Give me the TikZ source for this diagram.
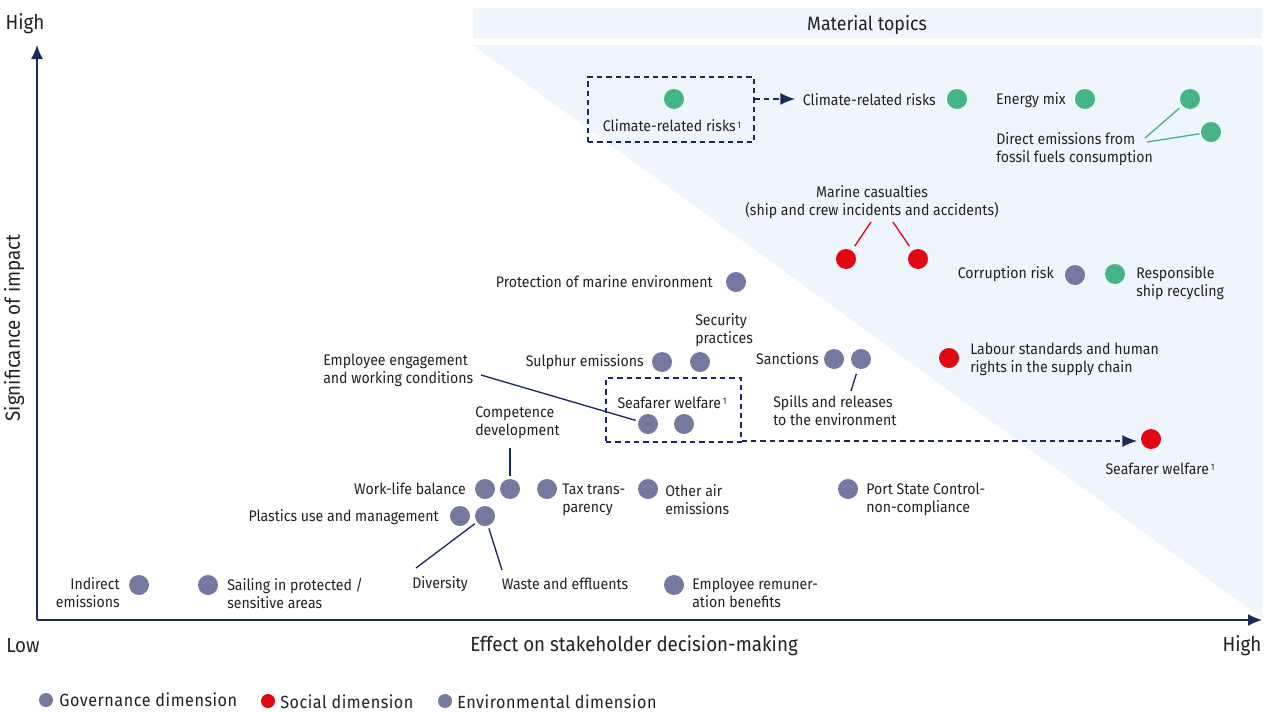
\documentclass[tikz,border=0pt]{standalone}
\usepackage{fontspec}
\setmainfont{Fira Sans}[FakeStretch=0.92]
\usetikzlibrary{arrows.meta}
\definecolor{navy}{HTML}{1B2A5C}
\definecolor{dgrey}{HTML}{7579A0}
\definecolor{dgreen}{HTML}{45B486}
\definecolor{dred}{HTML}{E30613}
\definecolor{lblue}{HTML}{EEF5FC}
\definecolor{txt}{HTML}{222222}
\newcommand{\supone}{\kern1.2pt{\fontsize{7}{7}\selectfont\raisebox{0.8ex}{1}}}
\begin{document}
\begin{tikzpicture}[x=0.75pt,y=-0.75pt,
  dotbase/.style={circle, draw=none, minimum size=15pt, inner sep=0pt},
  gdot/.style={dotbase, fill=dgrey},
  grdot/.style={dotbase, fill=dgreen},
  rdot/.style={dotbase, fill=dred},
  legdot/.style={circle, draw=none, minimum size=10.5pt, inner sep=0pt},
  lbl/.style={inner sep=0pt, text=txt, font=\fontsize{11.5}{13.5}\selectfont, align=left, yshift=-0.8pt},
  lblc/.style={lbl, align=center},
  lblr/.style={lbl, align=right},
  axlbl/.style={inner sep=0pt, text=txt, font=\fontsize{15.3}{17}\selectfont, yshift=-1pt},
  leglbl/.style={inner sep=0pt, text=txt, font=\fontsize{13.2}{15}\selectfont\addfontfeatures{LetterSpace=3}, anchor=west},
  axis/.style={draw=navy, line width=1.1pt, -{Latex[length=10.5pt,width=9pt]}},
  conn/.style={draw=navy, line width=1pt},
  gconn/.style={draw=dgreen, line width=1pt},
  rconn/.style={draw=dred, line width=1pt},
  dbox/.style={draw=navy, line width=1.1pt, dash pattern=on 4pt off 3pt},
  darrow/.style={draw=navy, line width=1.1pt, dash pattern=on 4pt off 3pt, -{Latex[length=11pt,width=9pt]}}
]
\useasboundingbox (0,0) rectangle (1269,711);
\fill[white] (0,0) rectangle (1269,711);

% material zone
\fill[lblue] (473,8) rectangle (1262,38);
\node[axlbl, font=\fontsize{14.5}{16}\selectfont] (mt) at (867,24) {Material topics};
\fill[lblue] (473,45) -- (1262,45) -- (1262,618) -- cycle;

% axes
\coordinate (origin) at (37,620);
\coordinate (ytip) at (37,45);
\coordinate (xtip) at (1262,620);
\draw[axis] (origin) -- (ytip);
\draw[axis] (origin) -- (xtip);
\node[axlbl] (yhigh) at (25,22) {High};
\node[axlbl] (ylow) at (23,644) {Low};
\node[axlbl] (xhigh) at (1242,644) {High};
\node[axlbl] (xlab) at (634,644) {Effect on stakeholder decision-making};
\node[axlbl, rotate=90, yshift=0pt, xshift=1pt] (ylab) at (14,328) {Significance of impact};

% climate-related risks (box)
\node[dbox, minimum width=124.5pt, minimum height=48.75pt, inner sep=0pt] (box1) at (671,109.5) {};
\node[grdot] (cr1) at (674,99) {};
\node[lblc] (cr1l) at (672,125) {Climate-related risks\supone};
\coordinate (cr1a) at (795,99);
\draw[darrow] (box1.east |- cr1) -- (cr1a);
\node[lbl, anchor=east] (cr2l) at (936,99) {Climate-related risks};
\node[grdot] (cr2) at (957,99) {};
\node[lbl, anchor=east] (eml) at (1066,99) {Energy mix};
\node[grdot] (em) at (1085,99) {};
\node[grdot] (de1) at (1190,99) {};
\node[grdot] (de2) at (1211,132) {};
\node[lbl, anchor=west] (del) at (996,148.5) {Direct emissions from\\fossil fuels consumption};
\coordinate (dea) at (1145,138);
\coordinate (deb) at (1147,142);
\draw[gconn, shorten >=3pt] (dea) -- (de1);
\draw[gconn, shorten >=1pt] (deb) -- (de2);

% marine casualties
\node[lblc] (mcl) at (872,201.5) {Marine casualties\\(ship and crew incidents and accidents)};
\node[rdot] (mc1) at (846,259) {};
\node[rdot] (mc2) at (918,259) {};
\coordinate (mca) at (871,222);
\coordinate (mcb) at (893,222);
\draw[rconn, shorten >=4pt] (mca) -- (mc1);
\draw[rconn, shorten >=4pt] (mcb) -- (mc2);

% corruption / recycling
\node[lbl, anchor=east] (corl) at (1054,273) {Corruption risk};
\node[gdot] (cor) at (1075,275) {};
\node[grdot] (rsr) at (1115,274) {};
\node[lbl, anchor=west] (rsrl) at (1136,282) {Responsible\\ship recycling};

% labour
\node[rdot] (lab) at (949,358) {};
\node[lbl, anchor=west] (labl) at (970,358) {Labour standards and human\\rights in the supply chain};

% seafarer welfare material
\node[rdot] (sw3) at (1151,439) {};
\node[lblc] (sw3l) at (1160,468) {Seafarer welfare\supone};

% protection of marine environment
\node[lbl, anchor=east] (pmel) at (713,281) {Protection of marine environment};
\node[gdot] (pme) at (736,282) {};

% sulphur / security
\node[lbl, anchor=east] (sull) at (644,361) {Sulphur emissions};
\node[gdot] (sul) at (662,362) {};
\node[gdot] (sec) at (700,362) {};
\node[lbl, anchor=west] (secl) at (695,329.5) {Security\\practices};

% sanctions / spills
\node[lbl, anchor=east] (sanl) at (819,358) {Sanctions};
\node[gdot] (san) at (834,359) {};
\node[gdot] (spi) at (861,359) {};
\node[lbl, anchor=west] (spil) at (773,410) {Spills and releases\\to the environment};
\coordinate (spia) at (851,391);
\draw[conn, shorten >=4pt] (spia) -- (spi);

% seafarer welfare box
\node[dbox, minimum width=101.25pt, minimum height=48pt, inner sep=0pt] (box2) at (673.5,410) {};
\node[lblc] (sw0l) at (672,402) {Seafarer welfare\supone};
\node[gdot] (sw1) at (648,424) {};
\node[gdot] (sw2) at (684,424) {};
\coordinate (sw3a) at (1137,441);
\draw[darrow] (box2.east |- sw3a) -- (sw3a);

% employee engagement
\node[lbl, anchor=west] (eel) at (323,369) {Employee engagement\\and working conditions};
\coordinate (eea) at (481,375);
\draw[conn, shorten >=2pt] (eea) -- (sw1);

% competence
\node[lbl, anchor=west] (cdl) at (475,422) {Competence\\development};
\coordinate (cda) at (510,448);

% work-life
\node[lbl, anchor=east] (wll) at (466,488) {Work-life balance};
\node[gdot] (wl1) at (485,489) {};
\node[gdot] (wl2) at (510,489) {};
\draw[conn, shorten >=2pt] (cda) -- (wl2);

% tax
\node[gdot] (tax) at (547,489) {};
\node[lbl, anchor=west] (taxl) at (562,498.5) {Tax trans-\\parency};

% other air
\node[gdot] (oae) at (648,489) {};
\node[lbl, anchor=west] (oael) at (665,498.5) {Other air\\emissions};

% port state
\node[gdot] (psc) at (848,489) {};
\node[lbl, anchor=west] (pscl) at (866,498.5) {Port State Control-\\non-compliance};

% plastics
\node[lbl, anchor=east] (pll) at (439,516) {Plastics use and management};
\node[gdot] (pl1) at (460,516) {};
\node[gdot] (pl2) at (485,516) {};
\node[lblc] (divl) at (440,583) {Diversity};
\node[lblc] (wasl) at (565,583) {Waste and effluents};
\coordinate (diva) at (416,568);
\coordinate (wasa) at (502,570);
\draw[conn, shorten >=2pt] (diva) -- (pl2);
\draw[conn, shorten >=2pt] (wasa) -- (pl2);

% bottom row
\node[lblr, anchor=east] (indl) at (120,592) {Indirect\\emissions};
\node[gdot] (ind) at (139,585) {};
\node[gdot] (sai) at (208,585) {};
\node[lbl, anchor=west] (sail) at (227,592) {Sailing in protected /\\sensitive areas};
\node[gdot] (erb) at (674,585) {};
\node[lbl, anchor=west] (erbl) at (692,592) {Employee remuner-\\ation benefits};

% legend
\node[legdot, fill=dgrey] (lg1) at (46,700) {};
\node[leglbl] (lg1l) at (59,700) {Governance dimension};
\node[legdot, fill=dred] (lg2) at (268,701) {};
\node[leglbl] (lg2l) at (280,702) {Social dimension};
\node[legdot, fill=dgrey] (lg3) at (445,701) {};
\node[leglbl] (lg3l) at (457,702) {Environmental dimension};
\end{tikzpicture}
\end{document}
